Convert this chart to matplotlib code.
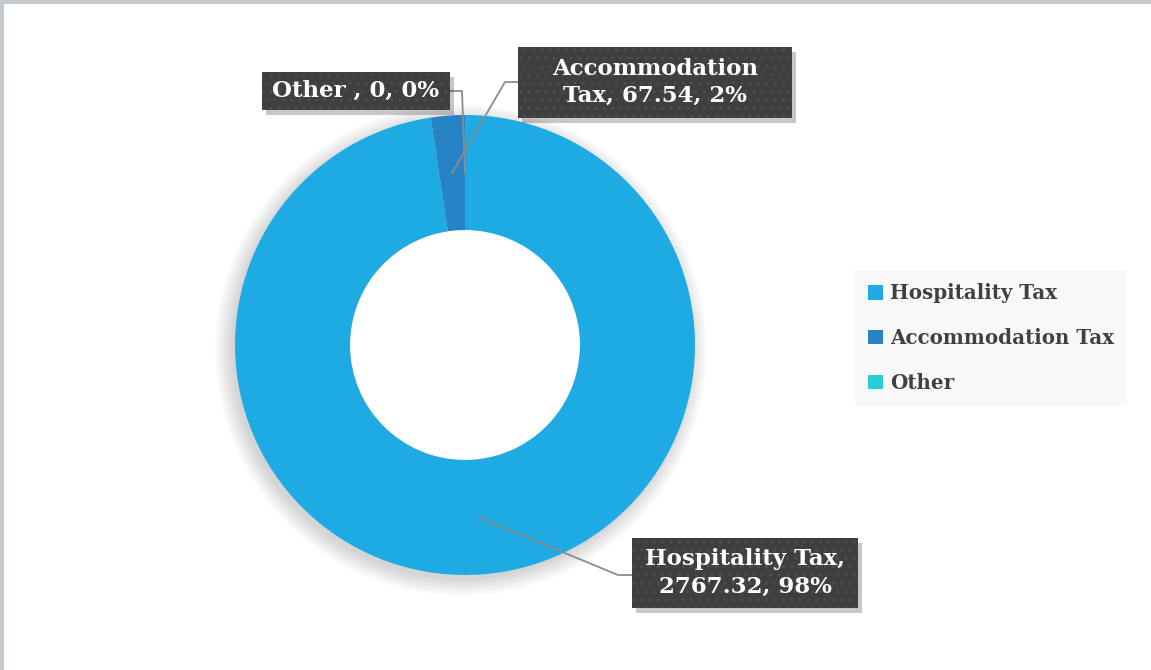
import numpy as np
import matplotlib.pyplot as plt
from matplotlib.patches import Circle, Rectangle

# data
categories = ["Hospitality Tax", "Accommodation Tax", "Other"]
values = [2767.32, 67.54, 0]
label_names = ["Hospitality Tax,\n2767.32, 98%", "Accommodation\nTax, 67.54, 2%", "Other , 0, 0%"]
colors = ["#1EABE3", "#2683C6", "#27CED7"]

W, H = 1151, 670
fig = plt.figure(figsize=(W / 100, H / 100), dpi=100)
ax = fig.add_axes([0, 0, 1, 1])
ax.set_xlim(0, W)
ax.set_ylim(0, H)
ax.axis("off")

# gray window edge (top / left)
fig.patches.append(Rectangle((0, 1 - 4 / H), 1, 4 / H, transform=fig.transFigure,
                             facecolor="#c3cbcf", edgecolor="none", zorder=-5))
fig.patches.append(Rectangle((0, 0), 4 / W, 1, transform=fig.transFigure,
                             facecolor="#c3cbcf", edgecolor="none", zorder=-5))

cx, cy, R = 465, 325, 230
FONT = "DejaVu Serif"

# soft shadow behind the ring
for i in range(14):
    ax.add_patch(Circle((cx - 4, cy - 5), R + 16 - i * 1.3, facecolor="#000000",
                        alpha=0.011, edgecolor="none", zorder=1))

wedges, _ = ax.pie(values, colors=colors, startangle=90, counterclock=False,
                   center=(cx, cy), radius=R,
                   wedgeprops=dict(width=R * 0.5, edgecolor="none"))
for w in wedges:
    w.set_zorder(2)
ax.set_xlim(0, W)
ax.set_ylim(0, H)

# inner hole white (covers shadow)
ax.add_patch(Circle((cx, cy), R * 0.5, facecolor="white", edgecolor="none", zorder=1.5))

# label boxes (x0, y0, w, h) in figure pixels, y up; elbow of leader line
boxes = [(632, 62, 226, 70), (518, 552, 274, 71), (262, 560, 188, 38)]
elbow = [(618, 95), (505, 588), (462, 579)]

total = sum(values)
ang = 90.0
for i, v in enumerate(values):
    span = 360.0 * v / total
    mid = np.deg2rad(ang - span / 2)
    ang -= span
    px, py = cx + 0.75 * R * np.cos(mid), cy + 0.75 * R * np.sin(mid)
    x0, y0, bw, bh = boxes[i]
    ex, ey = elbow[i]
    edge_x = x0 if ex < x0 else x0 + bw
    ax.plot([px, ex, edge_x], [py, ey, ey], color="#8c8c8c", lw=1.3, zorder=3)

    ax.add_patch(Rectangle((x0 + 4, y0 - 5), bw, bh, facecolor="#000000", alpha=0.22,
                           edgecolor="none", zorder=4))
    ax.add_patch(Rectangle((x0, y0), bw, bh, facecolor="#3f3f3f", edgecolor="#4d4d4d",
                           hatch="..", linewidth=0, zorder=4.5))
    ax.text(x0 + bw / 2, y0 + bh / 2, label_names[i], ha="center", va="center",
            fontsize=16.5, family=FONT, weight="bold", color="white",
            linespacing=1.3, zorder=5)

leg = ax.legend(wedges, categories, loc="center left", bbox_to_anchor=(855 / W, 332 / H),
                frameon=True, fancybox=False, handlelength=0.75, handleheight=0.75,
                handletextpad=0.35, labelspacing=1.25, borderpad=0.65, borderaxespad=0,
                prop=dict(family=FONT, weight="bold", size=14.3))
leg.get_frame().set_facecolor("#f7f7f7")
leg.get_frame().set_edgecolor("none")
for t in leg.get_texts():
    t.set_color("#404040")

fig.savefig("out.png", dpi=100, facecolor="white")
